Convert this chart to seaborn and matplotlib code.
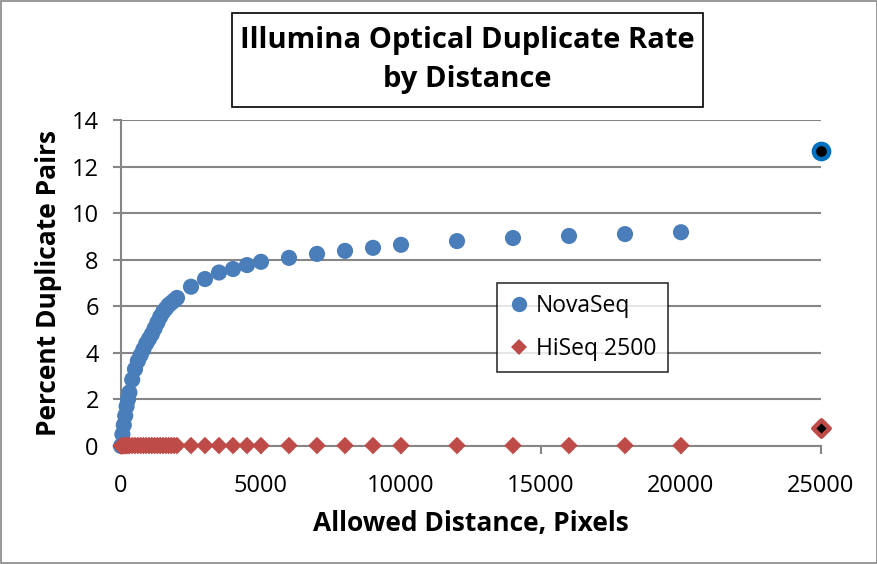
import numpy as np
import pandas as pd
import matplotlib
matplotlib.use("Agg")
import matplotlib.pyplot as plt
import seaborn as sns

# --- Illumina optical duplicate rate vs allowed pixel distance ---

distance = [0, 50, 100, 150, 200, 250, 300, 400, 500, 600, 700, 800, 900,
            1000, 1100, 1200, 1300, 1400, 1500, 1600, 1700, 1800, 1900, 2000,
            2500, 3000, 3500, 4000, 4500, 5000, 6000, 7000, 8000, 9000,
            10000, 12000, 14000, 16000, 18000, 20000]
novaseq = [0.0, 0.5, 0.9, 1.3, 1.7, 2.0, 2.3, 2.85, 3.3, 3.65, 3.9, 4.15, 4.4,
           4.6, 4.8, 5.05, 5.3, 5.55, 5.75, 5.9, 6.05, 6.15, 6.25, 6.36,
           6.84, 7.17, 7.45, 7.6, 7.77, 7.91, 8.08, 8.25, 8.38, 8.51,
           8.64, 8.8, 8.93, 9.02, 9.1, 9.18]
hiseq = [0.0, 0.01, 0.01, 0.01, 0.02, 0.02, 0.02, 0.02, 0.02, 0.02, 0.02,
         0.02, 0.02, 0.02, 0.02, 0.02, 0.02, 0.02, 0.02, 0.02, 0.02, 0.02,
         0.02, 0.02, 0.02, 0.02, 0.02, 0.02, 0.02, 0.02, 0.02, 0.02, 0.02,
         0.02, 0.02, 0.02, 0.02, 0.02, 0.02, 0.02]

# highlighted point at the far end
outlier_x = 25000
outlier_nova = 12.66
outlier_hiseq = 0.77

df = pd.DataFrame({"distance": distance, "NovaSeq": novaseq, "HiSeq 2500": hiseq})
long = df.melt(id_vars="distance", var_name="platform", value_name="pct")

sns.set_theme(style="white")
plt.rcParams["font.family"] = ["Open Sans", "DejaVu Sans"]
plt.rcParams["text.color"] = "black"
plt.rcParams["axes.labelcolor"] = "black"
plt.rcParams["xtick.labelcolor"] = "black"
plt.rcParams["ytick.labelcolor"] = "black"

blue = "#4A7EBB"
red = "#BE4B48"
grid_c = "#868686"

fig = plt.figure(figsize=(8.78, 5.64), dpi=100)
ax = fig.add_axes([121 / 878, 1 - 446 / 564, 700 / 878, 326 / 564])

sns.scatterplot(data=long, x="distance", y="pct", hue="platform", style="platform",
                size="platform", sizes={"NovaSeq": 135, "HiSeq 2500": 80},
                markers={"NovaSeq": "o", "HiSeq 2500": "D"},
                palette={"NovaSeq": blue, "HiSeq 2500": red},
                linewidth=0, ax=ax, zorder=3, clip_on=False, legend="full")

# highlighted end points
ax.scatter([outlier_x], [outlier_nova], s=120, marker="o", facecolor="black",
           edgecolor="#0070C0", linewidth=3.2, zorder=4, clip_on=False)
ax.scatter([outlier_x], [outlier_hiseq], s=70, marker="D", facecolor="black",
           edgecolor=red, linewidth=3.2, zorder=4, clip_on=False)

ax.set_xlim(0, 25000)
ax.set_ylim(0, 14)
ax.set_xticks(range(0, 25001, 5000))
ax.set_yticks(range(0, 15, 2))
ax.yaxis.grid(True, color=grid_c, linewidth=1.5)
ax.set_axisbelow(True)
for side in ["top", "right"]:
    ax.spines[side].set_visible(False)
for side in ["left", "bottom"]:
    ax.spines[side].set_color(grid_c)
    ax.spines[side].set_linewidth(1.5)
ax.tick_params(axis="both", which="major", direction="out", length=6, width=1.5,
               color=grid_c, labelsize=17, labelcolor="black", bottom=True, left=True)
ax.tick_params(axis="y", pad=10)
ax.tick_params(axis="x", pad=14)

ax.set_xlabel("Allowed Distance, Pixels", fontsize=19, fontweight="bold", labelpad=9)
ax.set_ylabel("Percent Duplicate Pairs", fontsize=19, fontweight="bold", labelpad=7)

leg = ax.legend(title=None, loc="upper left", bbox_to_anchor=(376 / 700, 163 / 326),
                fontsize=16.5, frameon=True, fancybox=False, edgecolor="black",
                borderpad=0.5, labelspacing=0.8, handletextpad=0.3,
                handlelength=0.9, borderaxespad=0, markerscale=0.95)
leg.get_frame().set_linewidth(1.2)

# title text with its own box
fig.text(467 / 878, 1 - 48 / 564, "Illumina Optical Duplicate Rate",
         ha="center", va="baseline", fontsize=21, fontweight="bold")
fig.text(467 / 878, 1 - 87 / 564, "by Distance",
         ha="center", va="baseline", fontsize=21, fontweight="bold")
fig.patches.append(plt.Rectangle((232 / 878, 1 - 107 / 564), 471 / 878, 94 / 564,
                                 transform=fig.transFigure, fill=False,
                                 edgecolor="black", linewidth=1.2))

# outer chart border
fig.patches.append(plt.Rectangle((0.001, 0.001), 0.998, 0.998, transform=fig.transFigure,
                                 fill=False, edgecolor=grid_c, linewidth=1.2))

fig.savefig("out.png", dpi=100)
